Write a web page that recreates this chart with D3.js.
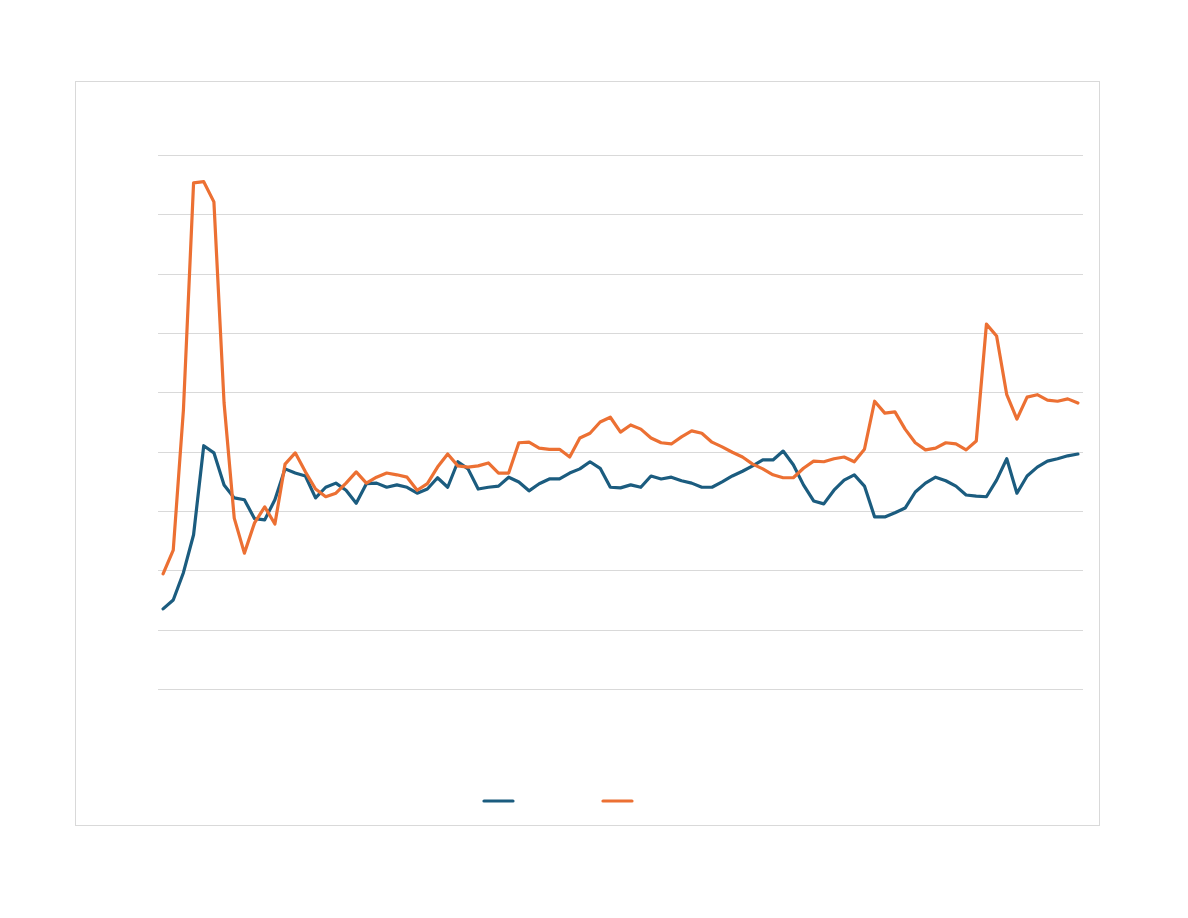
<!DOCTYPE html>
<html>
<head>
<meta charset="utf-8">
<script src="https://cdn.jsdelivr.net/npm/d3@7"></script>
<style>
html,body{margin:0;padding:0;background:#fff;}
svg{display:block;}
</style>
</head>
<body>
<svg id="chart" width="1188" height="918"></svg>
<script>
// Series values (arbitrary units, gridlines every 10 from 0 to 90)
const seriesA = [13.5,15.0,19.6,26.0,41.0,39.8,34.4,32.2,31.9,28.7,28.5,31.9,37.1,36.4,35.9,32.2,34.0,34.7,33.5,31.3,
  34.6,34.7,34.0,34.4,34.0,33.0,33.7,35.6,34.0,38.3,37.1,33.7,34.0,34.2,35.7,34.9,33.4,34.6,35.4,35.4,
  36.4,37.1,38.3,37.2,34.0,33.9,34.4,34.0,35.9,35.4,35.7,35.1,34.7,34.0,34.0,34.9,35.9,36.7,37.6,38.6,
  38.6,40.1,37.8,34.4,31.7,31.2,33.5,35.2,36.1,34.2,29.0,29.0,29.7,30.5,33.2,34.7,35.7,35.1,34.2,32.7,
  32.5,32.4,35.2,38.8,33.0,35.9,37.4,38.4,38.8,39.3,39.6];
const seriesB = [19.4,23.4,47.0,85.3,85.5,82.1,48.2,28.8,22.9,28.0,30.7,27.8,37.9,39.8,36.6,33.7,32.4,33.0,34.7,36.6,
  34.7,35.7,36.4,36.1,35.7,33.5,34.6,37.4,39.6,37.6,37.4,37.6,38.1,36.4,36.4,41.5,41.6,40.6,40.4,40.4,
  39.1,42.3,43.1,45.0,45.8,43.3,44.5,43.8,42.3,41.5,41.3,42.5,43.5,43.1,41.6,40.8,39.9,39.1,37.9,37.1,
  36.1,35.6,35.6,37.2,38.4,38.3,38.8,39.1,38.3,40.4,48.5,46.5,46.7,43.8,41.5,40.3,40.6,41.5,41.3,40.3,
  41.8,61.5,59.5,49.6,45.5,49.2,49.6,48.7,48.5,48.9,48.2];
const categories = seriesA.map((d, i) => i);
const yTicks = [0,10,20,30,40,50,60,70,80,90];
const seriesNames = ["", ""];
const colors = ["#1b5c7f", "#ec7033"];

const svg = d3.select("#chart");

// outer chart border
svg.append("rect")
  .attr("x", 75.5).attr("y", 81.5)
  .attr("width", 1024).attr("height", 744)
  .attr("fill", "#fff").attr("stroke", "#d9d9d9").attr("stroke-width", 1)
  .attr("shape-rendering", "crispEdges");

const plot = {left: 158, right: 1083, top: 155, bottom: 689};

const x = d3.scalePoint().domain(categories).range([plot.left, plot.right]).padding(0.5);
const y = d3.scaleLinear().domain([0, 90]).range([plot.bottom, plot.top]);

// gridlines
const yAxis = d3.axisLeft(y).tickValues(yTicks).tickSize(-(plot.right - plot.left)).tickFormat("");
const g = svg.append("g").attr("transform", `translate(${plot.left},0)`).call(yAxis);
g.select(".domain").remove();
g.selectAll(".tick line").attr("stroke", "#d9d9d9").attr("stroke-width", 1)
  .attr("shape-rendering", "crispEdges");

const line = d3.line().x((d, i) => x(i)).y(d => y(d));

[seriesA, seriesB].forEach((s, k) => {
  svg.append("path")
    .datum(s)
    .attr("d", line)
    .attr("fill", "none")
    .attr("stroke", colors[k])
    .attr("stroke-width", 3.2)
    .attr("stroke-linejoin", "round")
    .attr("stroke-linecap", "round");
});

// legend (series names are empty in the reference)
const legend = svg.append("g");
const legendX = [484, 603];
seriesNames.forEach((name, k) => {
  legend.append("line")
    .attr("x1", legendX[k]).attr("x2", legendX[k] + 29)
    .attr("y1", 801).attr("y2", 801)
    .attr("stroke", colors[k]).attr("stroke-width", 3.2)
    .attr("stroke-linecap", "round");
  legend.append("text")
    .attr("x", legendX[k] + 36).attr("y", 805)
    .attr("font-family", "Liberation Sans, Arial, sans-serif")
    .attr("font-size", 12).attr("fill", "#595959")
    .text(name);
});
</script>
</body>
</html>
